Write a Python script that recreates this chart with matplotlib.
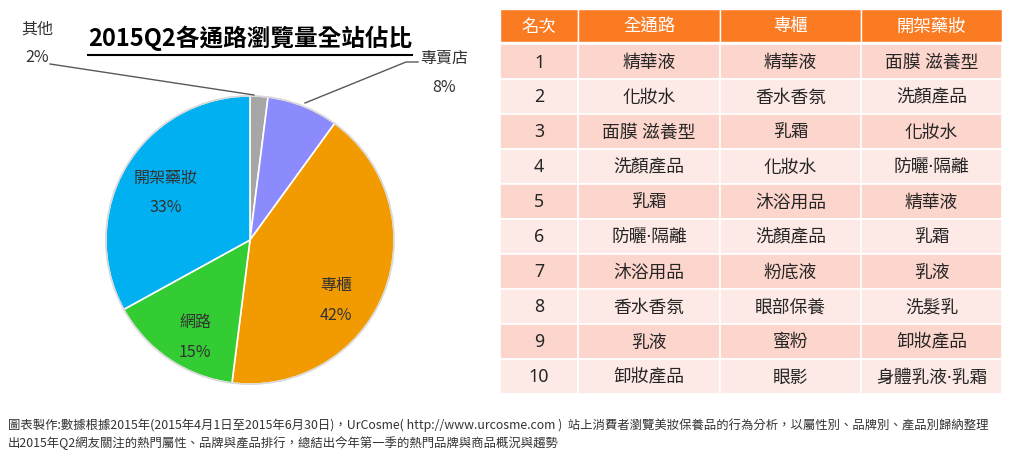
import matplotlib.pyplot as plt
from matplotlib.patches import Rectangle

plt.rcParams['font.family'] = ['Noto Sans CJK TC', 'DejaVu Sans']

# pie data (clockwise from top)
channels = ['其他', '專賣店', '專櫃', '網路', '開架藥妝']
shares = [2, 8, 42, 15, 33]
pie_colors = ['#a6a6a6', '#8b8bfd', '#f29b00', '#33cc33', '#00b0f0']

# ranking table
headers = ['名次', '全通路', '專櫃', '開架藥妝']
ranks = [str(i) for i in range(1, 11)]
all_channels = ['精華液', '化妝水', '面膜 滋養型', '洗顏產品', '乳霜', '防曬·隔離',
                '沐浴用品', '香水香氛', '乳液', '卸妝產品']
counter = ['精華液', '香水香氛', '乳霜', '化妝水', '沐浴用品', '洗顏產品',
           '粉底液', '眼部保養', '蜜粉', '眼影']
drugstore = ['面膜 滋養型', '洗顏產品', '化妝水', '防曬·隔離', '精華液', '乳霜',
             '乳液', '洗髮乳', '卸妝產品', '身體乳液·乳霜']

title = '2015Q2各通路瀏覽量全站佔比'
note1 = ('圖表製作:數據根據2015年(2015年4月1日至2015年6月30日)，UrCosme( http://www.urcosme.com )  '
         '站上消費者瀏覽美妝保養品的行為分析，以屬性別、品牌別、產品別歸納整理')
note2 = '出2015年Q2網友關注的熱門屬性、品牌與產品排行，總結出今年第一季的熱門品牌與商品概況與趨勢'

W, H = 1024, 460
fig = plt.figure(figsize=(W / 100, H / 100), dpi=100)

# pie
cx, cy, r = 250, 241, 147
ax_pie = fig.add_axes([(cx - r) / W, (H - cy - r) / H, 2 * r / W, 2 * r / H])
ax_pie.pie(shares, colors=pie_colors, startangle=90, counterclock=False,
           wedgeprops=dict(edgecolor='white', linewidth=1.2))
ax_pie.add_patch(plt.Circle((0, 0), 1.0, fill=False, ec='#d9d9d9', lw=1.2))
ax_pie.set_xlim(-1.02, 1.02)
ax_pie.set_ylim(-1.02, 1.02)
ax_pie.set_aspect('equal')
ax_pie.axis('off')

# overlay axes in pixel coordinates (on top of the pie)
ax = fig.add_axes([0, 0, 1, 1])
ax.set_xlim(0, W)
ax.set_ylim(H, 0)
ax.axis('off')

lab_col = '#333333'
label_pos = {
    '其他': (37, 29, 57),
    '專賣店': (444, 58, 88),
    '專櫃': (336, 286, 316),
    '網路': (195, 323, 353),
    '開架藥妝': (166, 178, 208),
}
for name, val in zip(channels, shares):
    x, y1, y2 = label_pos[name]
    ax.text(x, y1, name, ha='center', va='center', fontsize=11.5, color=lab_col)
    ax.text(x, y2, f'{val}%', ha='center', va='center', fontsize=11.5, color=lab_col)

# leader lines
ax.plot([50, 254], [65, 96], color='#595959', lw=1)
ax.plot([418, 406, 305], [63, 63, 104], color='#595959', lw=1)

# title
ax.text(250, 38, title, ha='center', va='center', fontsize=17, fontweight='bold', color='black')
ax.plot([88, 412], [56, 56], color='black', lw=1.5)

# table
col_edges = [500, 578, 720, 861, 1002]
head_top, head_bot = 10, 43
row_top, row_h = 45, 35
cols = [ranks, all_channels, counter, drugstore]
cell_font = ['Noto Sans', 'Noto Sans CJK TC']  # narrow middle dot from Noto Sans
for j, hd in enumerate(headers):
    x0, x1 = col_edges[j], col_edges[j + 1]
    ax.add_patch(Rectangle((x0, head_top), x1 - x0, head_bot - head_top,
                           fc='#fb7b23', ec='white', lw=1))
    ax.text((x0 + x1) / 2, (head_top + head_bot) / 2, hd, ha='center', va='center',
            fontsize=12.5, color='white')
    for i, val in enumerate(cols[j]):
        y0 = row_top + i * row_h
        fc = '#fcd5cc' if i % 2 == 0 else '#fde9e6'
        ax.add_patch(Rectangle((x0, y0), x1 - x0, row_h, fc=fc, ec='white', lw=1.2))
        ax.text((x0 + x1) / 2, y0 + row_h / 2, val, ha='center', va='center',
                fontsize=12.8, color='#262626', family=cell_font)

# footnote
ax.text(8, 425, note1, ha='left', va='center', fontsize=8.9, color='#333333')
ax.text(8, 443, note2, ha='left', va='center', fontsize=8.9, color='#333333')

fig.savefig('out.png', dpi=100)
